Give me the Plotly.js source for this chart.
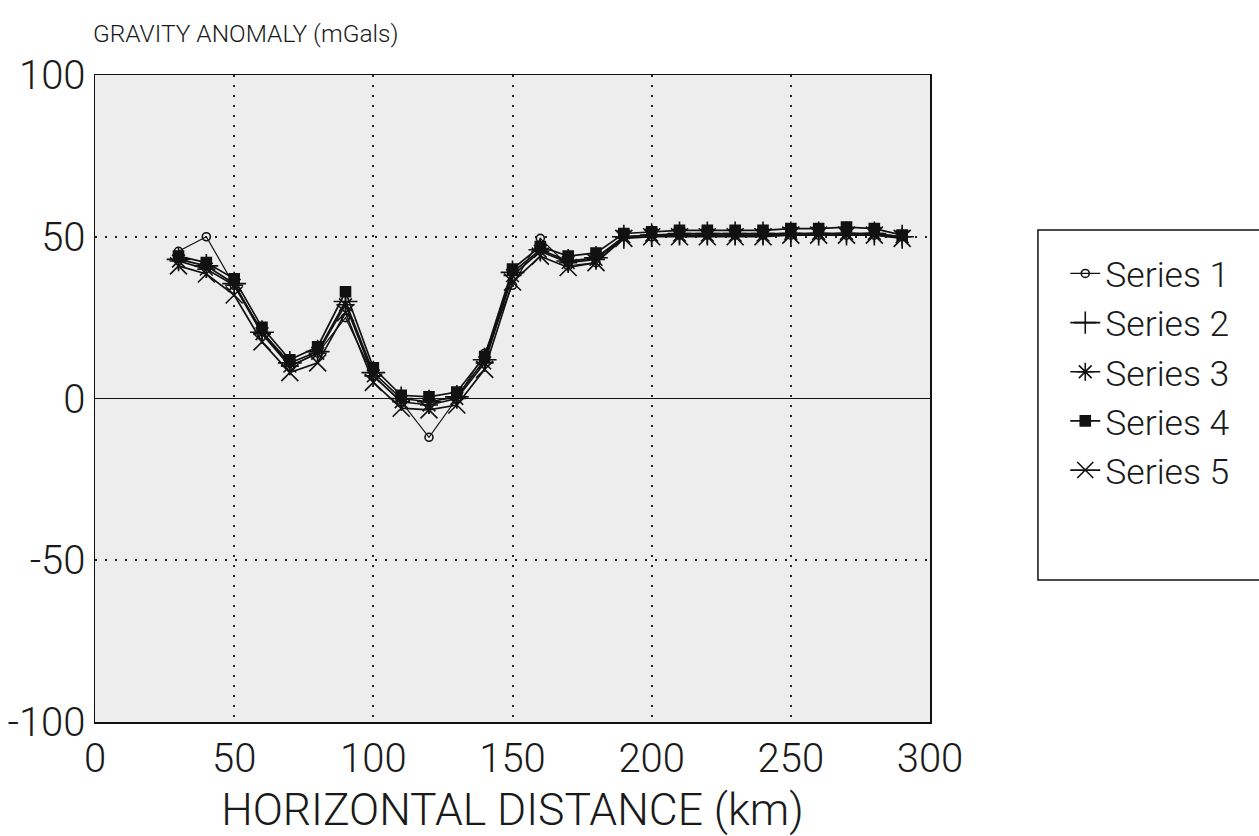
<!DOCTYPE html>
<html>
<head>
<meta charset="utf-8">
<script src="https://cdn.plot.ly/plotly-3.0.1.min.js"></script>
<style>html,body{margin:0;padding:0;background:#fff;}#chart{width:1259px;height:836px;}</style>
</head>
<body>
<div id="chart"></div>
<script>
const distance = [30,40,50,60,70,80,90,100,110,120,130,140,150,160,170,180,190,200,210,220,230,240,250,260,270,280,290];
const series1 = [45.5,50,35,21,10,14,25,7,-1,-12,0,14,35,49.5,41,42,50,50,50.5,50.5,50.5,50.5,50.5,50.5,50.5,50.5,50];
const series2 = [43,41,35.5,20.5,11,14.5,30,8,0,-1,0.5,12,39,46,42.5,43.5,50,50.5,51,51,51,51,51,51,51,51,50];
const series3 = [42.5,40,35,20,10,14,29,7,-1,-2,0,11,38,45.5,42,43,50,50.5,50.5,50.5,50.5,50.5,51,51,51,51,50];
const series4 = [44,42,37,22,12,16,33,9.5,1,0.5,2,13,40,47,44,45,51,51.5,52,52,52,52,52.5,52.5,53,52.5,50.5];
const series5 = [41,38.5,32,17.5,8,11,26.5,5,-3,-3.5,-2,9,36,44,40.5,42,49.5,50,50,50,50,50,50.5,50.5,50.5,50.5,49.5];
const seriesNames = ["Series 1","Series 2","Series 3","Series 4","Series 5"];
const xTicks = [0,50,100,150,200,250,300];
const yTicks = [-100,-50,0,50,100];

const allY = [series1, series2, series3, series4, series5];
const symbols = ["circle-open","cross-thin-open","asterisk-open","square","x-thin-open"];
const sizes = [8,17,15,10,17];
const widths = [1.2,1.7,1.7,1.7,1.7];

const traces = allY.map((ys, i) => ({
  type: "scatter",
  mode: "lines+markers",
  x: distance,
  y: ys,
  name: seriesNames[i],
  line: {color: "#111", width: widths[i]},
  marker: {symbol: symbols[i], size: sizes[i], color: "#111", line: {color: "#111", width: 1.6}}
}));

const fontFam = "Roboto, DejaVu Sans, sans-serif";
const txt = "#1a1a1a";
const layout = {
  width: 1259, height: 836,
  margin: {l: 95, r: 329, t: 75, b: 114},
  paper_bgcolor: "#fff",
  plot_bgcolor: "#ededed",
  showlegend: true,
  font: {family: fontFam, color: txt, size: 40, weight: 300},
  xaxis: {
    range: [0, 300], tickvals: xTicks, ticktext: xTicks.map(String),
    showgrid: true, gridcolor: "#222", griddash: "2px,8px", gridwidth: 2,
    zeroline: false, showline: true, mirror: true, linecolor: "#111", linewidth: 1.5,
    ticks: "", automargin: false, tickfont: {size: 40, family: fontFam, color: txt, weight: 300},
    title: {text: "HORIZONTAL DISTANCE (km)", font: {size: 44.5, family: fontFam, color: txt, weight: 300}, standoff: 15}
  },
  yaxis: {
    range: [-100, 100], tickvals: yTicks, ticktext: yTicks.map(String),
    showgrid: true, gridcolor: "#222", griddash: "2px,8px", gridwidth: 2,
    zeroline: true, zerolinecolor: "#111", zerolinewidth: 1.5,
    showline: true, mirror: true, linecolor: "#111", linewidth: 1.5,
    ticks: "", automargin: false, tickfont: {size: 40, family: fontFam, color: txt, weight: 300}
  },
  annotations: [{
    text: "GRAVITY ANOMALY (mGals)", xref: "paper", yref: "paper",
    x: -0.005, y: 1.038, xanchor: "left", yanchor: "bottom", showarrow: false,
    font: {size: 24.5, family: fontFam, color: txt, weight: 300}
  }],
  shapes: [{
    type: "rect", xref: "paper", yref: "paper",
    x0: 1.1293, x1: 1.405, y0: 0.2195, y1: 0.7604,
    line: {color: "#111", width: 1.5}, fillcolor: "#fff", layer: "below"
  }],
  legend: {
    x: 1.162, y: 0.739, xanchor: "left", yanchor: "top",
    borderwidth: 0, bgcolor: "rgba(0,0,0,0)",
    font: {size: 35.5, family: fontFam, color: txt, weight: 300},
    itemwidth: 30
  }
};

Plotly.newPlot("chart", traces, layout, {displayModeBar: false, staticPlot: true});
</script>
</body>
</html>
